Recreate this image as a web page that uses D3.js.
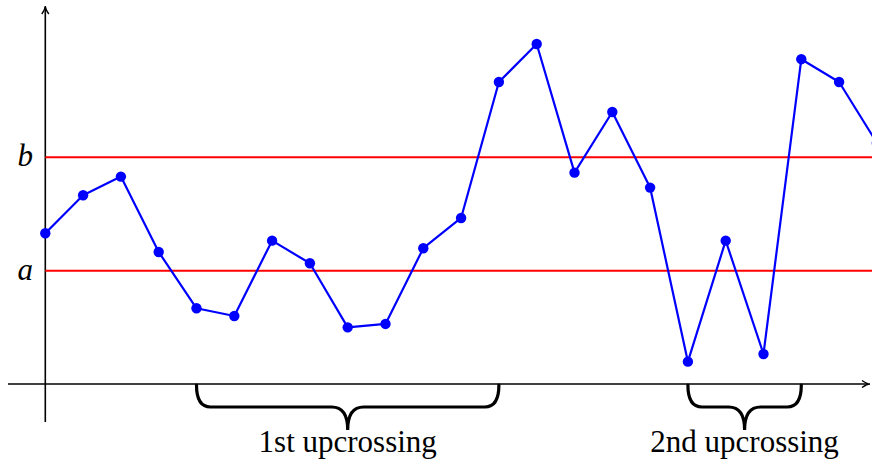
<!DOCTYPE html>
<html>
<head>
<meta charset="utf-8">
<script src="https://cdn.jsdelivr.net/npm/d3@7"></script>
<style>
  body { margin: 0; background: #fff; }
  svg { display: block; }
</style>
</head>
<body>
<svg id="chart"></svg>
<script>
var W = 872, H = 464;

// data
var steps = d3.range(0, 23);
var values = [1.33, 1.665, 1.83, 1.165, 0.668, 0.60, 1.265, 1.065, 0.50, 0.53, 1.198, 1.465,
              2.665, 3.0, 1.865, 2.40, 1.733, 0.197, 1.265, 0.265, 2.866, 2.665, 2.127];
var levelNames = ['a', 'b'];
var levelValues = [1, 2];
var braceFrom = [4, 17],
    braceTo = [12, 20],
    braceLabels = ['1st upcrossing', '2nd upcrossing'];

var svg = d3.select('#chart')
            .attr('width', W)
            .attr('height', H);

var x = d3.scaleLinear().domain([0, 20]).range([45.3, 801.3]);
var y = d3.scaleLinear().domain([0, 3]).range([384, 44]);

svg.append('clipPath').attr('id', 'clipArea')
   .append('rect').attr('x', 0).attr('y', 0).attr('width', W).attr('height', H);

// axes
var y0 = y(0), x0 = x(0);
svg.append('line')
   .attr('x1', 8).attr('x2', W - 4)
   .attr('y1', y0).attr('y2', y0)
   .attr('stroke', '#000').attr('stroke-width', 1.6);
svg.append('line')
   .attr('x1', x0).attr('x2', x0)
   .attr('y1', 422).attr('y2', 7)
   .attr('stroke', '#000').attr('stroke-width', 1.6);

// LaTeX-ish arrow heads
svg.append('path')
   .attr('d', 'M' + (x0 - 3.5) + ',14 Q' + x0 + ',9 ' + x0 + ',6 Q' + x0 + ',9 ' + (x0 + 3.5) + ',14')
   .attr('fill', 'none').attr('stroke', '#000').attr('stroke-width', 1.4);
svg.append('path')
   .attr('d', 'M' + (W - 10) + ',' + (y0 - 3.5) + ' Q' + (W - 5) + ',' + y0 + ' ' + (W - 2) + ',' + y0 +
              ' Q' + (W - 5) + ',' + y0 + ' ' + (W - 10) + ',' + (y0 + 3.5))
   .attr('fill', 'none').attr('stroke', '#000').attr('stroke-width', 1.4);

// threshold lines
svg.selectAll('line.level')
   .data(levelValues)
   .enter().append('line')
   .attr('class', 'level')
   .attr('x1', x0).attr('x2', W)
   .attr('y1', d => y(d)).attr('y2', d => y(d))
   .attr('stroke', '#ff0000').attr('stroke-width', 2);

svg.selectAll('text.level')
   .data(levelValues)
   .enter().append('text')
   .attr('class', 'level')
   .attr('x', 33)
   .attr('y', d => y(d) + 9)
   .attr('text-anchor', 'end')
   .attr('font-family', '"Liberation Serif", "DejaVu Serif", serif')
   .attr('font-style', 'italic')
   .attr('font-size', '31px')
   .text((d, i) => levelNames[i]);

// the path
var pts = steps.map((s, i) => [x(s), y(values[i])]);
var G = svg.append('g').attr('clip-path', 'url(#clipArea)');
G.append('path')
 .attr('d', d3.line()(pts))
 .attr('fill', 'none')
 .attr('stroke', '#0000ff')
 .attr('stroke-width', 2.2)
 .attr('stroke-linejoin', 'round');
G.selectAll('circle')
 .data(pts)
 .enter().append('circle')
 .attr('cx', d => d[0])
 .attr('cy', d => d[1])
 .attr('r', 5.2)
 .attr('fill', '#0000ff');

// braces under the axis
function bracePath(xa, xb, top, mid, tip) {
    var xm = (xa + xb) / 2, r = 14, rt = 16;
    return 'M' + xa + ',' + top +
           ' Q' + xa + ',' + mid + ' ' + (xa + r) + ',' + mid +
           ' L' + (xm - rt) + ',' + mid +
           ' Q' + xm + ',' + mid + ' ' + xm + ',' + tip +
           ' Q' + xm + ',' + mid + ' ' + (xm + rt) + ',' + mid +
           ' L' + (xb - r) + ',' + mid +
           ' Q' + xb + ',' + mid + ' ' + xb + ',' + top;
}

braceFrom.forEach(function(f, i) {
    var xa = x(f), xb = x(braceTo[i]);
    svg.append('path')
       .attr('d', bracePath(xa, xb, y0 + 1, 407, 430))
       .attr('fill', 'none')
       .attr('stroke', '#000')
       .attr('stroke-width', 3.2)
       .attr('stroke-linecap', 'round');
    svg.append('text')
       .attr('x', (xa + xb) / 2)
       .attr('y', 452)
       .attr('text-anchor', 'middle')
       .attr('font-family', '"Liberation Serif", "DejaVu Serif", serif')
       .attr('font-size', '31px')
       .text(braceLabels[i]);
});
</script>
</body>
</html>
